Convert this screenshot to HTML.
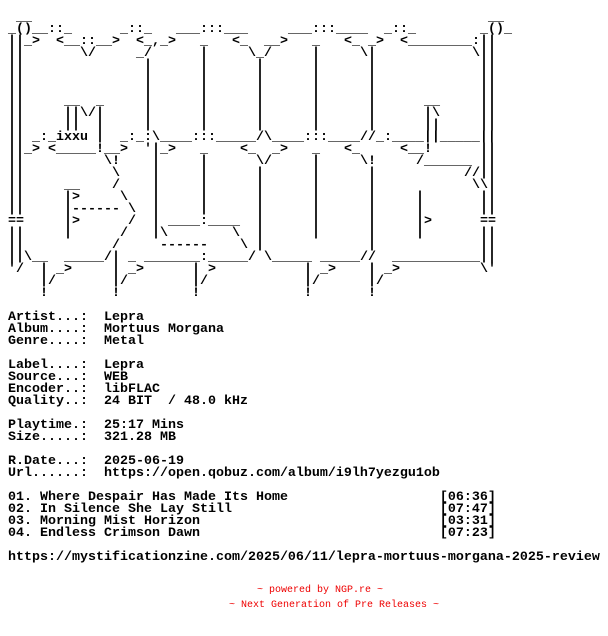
<!DOCTYPE html>
<html><head><meta charset="utf-8"><style>
html,body{margin:0;padding:0;background:#fff;width:608px;height:636px;overflow:hidden;position:relative}
.t,.a i{font-family:"Liberation Mono",monospace;font-size:13.333px;font-weight:bold;line-height:12px;color:#000;white-space:pre}
.a i{position:absolute;font-style:normal}
.r{position:absolute;left:0;width:608px;height:12px}
.t{position:absolute;left:8px;top:312px;margin:0}
.f{position:absolute;font-family:"Liberation Mono",monospace;font-size:10px;line-height:12px;color:#e00;white-space:pre}
</style></head><body>
<div class="a">
<div class="r" style="top:12px"><i style="left:16px">__</i><i style="left:488px">__</i></div>
<div class="r" style="top:24px"><i style="left:8px">_()__::_</i><i style="left:120px">_::_</i><i style="left:176px">___:::___</i><i style="left:288px">___:::____</i><i style="left:384px">_::_</i><i style="left:480px">_()_</i></div>
<div class="r" style="top:36px"><i style="left:8px">||_&gt;</i><i style="left:56px">&lt;__::__&gt;</i><i style="left:136px">&lt;_,_&gt;</i><i style="left:200px">_</i><i style="left:232px">&lt;_  __&gt;</i><i style="left:312px">_</i><i style="left:344px">&lt;_ _&gt;</i><i style="left:400px">&lt;________:||</i></div>
<div class="r" style="top:48px"><i style="left:8px">||</i><i style="left:80px">\/</i><i style="left:136px">_/</i><i style="left:200px">|</i><i style="left:248px">\_/</i><i style="left:312px">|</i><i style="left:360px">\|</i><i style="left:472px">\||</i></div>
<div class="r" style="top:60px"><i style="left:8px">||</i><i style="left:144px">|</i><i style="left:200px">|</i><i style="left:256px">|</i><i style="left:312px">|</i><i style="left:368px">|</i><i style="left:480px">||</i></div>
<div class="r" style="top:72px"><i style="left:8px">||</i><i style="left:144px">|</i><i style="left:200px">|</i><i style="left:256px">|</i><i style="left:312px">|</i><i style="left:368px">|</i><i style="left:480px">||</i></div>
<div class="r" style="top:84px"><i style="left:8px">||</i><i style="left:144px">|</i><i style="left:200px">|</i><i style="left:256px">|</i><i style="left:312px">|</i><i style="left:368px">|</i><i style="left:480px">||</i></div>
<div class="r" style="top:96px"><i style="left:8px">||</i><i style="left:64px">__</i><i style="left:96px">_</i><i style="left:144px">|</i><i style="left:200px">|</i><i style="left:256px">|</i><i style="left:312px">|</i><i style="left:368px">|</i><i style="left:424px">__</i><i style="left:480px">||</i></div>
<div class="r" style="top:108px"><i style="left:8px">||</i><i style="left:64px">||\/|</i><i style="left:144px">|</i><i style="left:200px">|</i><i style="left:256px">|</i><i style="left:312px">|</i><i style="left:368px">|</i><i style="left:424px">|\</i><i style="left:480px">||</i></div>
<div class="r" style="top:120px"><i style="left:8px">||</i><i style="left:64px">||</i><i style="left:96px">|</i><i style="left:144px">|</i><i style="left:200px">|</i><i style="left:256px">|</i><i style="left:312px">|</i><i style="left:368px">|</i><i style="left:424px">||</i><i style="left:480px">||</i></div>
<div class="r" style="top:132px"><i style="left:8px">||</i><i style="left:32px">_:_ixxu</i><i style="left:96px">|</i><i style="left:120px">_:_:\____:::_____/\____:::____//_:____||_____||</i></div>
<div class="r" style="top:144px"><i style="left:8px">||_&gt;</i><i style="left:48px">&lt;_____!__&gt;</i><i style="left:144px">'|_&gt;</i><i style="left:200px">_</i><i style="left:240px">&lt;_  _&gt;</i><i style="left:312px">_</i><i style="left:344px">&lt;_</i><i style="left:400px">&lt;__!</i><i style="left:480px">||</i></div>
<div class="r" style="top:156px"><i style="left:8px">||</i><i style="left:104px">\!</i><i style="left:152px">|</i><i style="left:200px">|</i><i style="left:256px">\/</i><i style="left:312px">|</i><i style="left:360px">\!</i><i style="left:416px">/______</i><i style="left:480px">||</i></div>
<div class="r" style="top:168px"><i style="left:8px">||</i><i style="left:112px">\</i><i style="left:152px">|</i><i style="left:200px">|</i><i style="left:256px">|</i><i style="left:312px">|</i><i style="left:368px">|</i><i style="left:464px">//</i><i style="left:480px">||</i></div>
<div class="r" style="top:180px"><i style="left:8px">||</i><i style="left:64px">__</i><i style="left:112px">/</i><i style="left:152px">|</i><i style="left:200px">|</i><i style="left:256px">|</i><i style="left:312px">|</i><i style="left:368px">|</i><i style="left:472px">\\|</i></div>
<div class="r" style="top:192px"><i style="left:8px">||</i><i style="left:64px">|&gt;</i><i style="left:120px">\</i><i style="left:152px">|</i><i style="left:200px">|</i><i style="left:256px">|</i><i style="left:312px">|</i><i style="left:368px">|</i><i style="left:416px">|</i><i style="left:480px">||</i></div>
<div class="r" style="top:204px"><i style="left:8px">||</i><i style="left:64px">|------</i><i style="left:128px">\</i><i style="left:152px">|</i><i style="left:200px">|</i><i style="left:256px">|</i><i style="left:312px">|</i><i style="left:368px">|</i><i style="left:416px">|</i><i style="left:480px">||</i></div>
<div class="r" style="top:216px"><i style="left:8px">==</i><i style="left:64px">|&gt;</i><i style="left:128px">/</i><i style="left:152px">|</i><i style="left:168px">____:____</i><i style="left:256px">|</i><i style="left:312px">|</i><i style="left:368px">|</i><i style="left:416px">|&gt;</i><i style="left:480px">==</i></div>
<div class="r" style="top:228px"><i style="left:8px">||</i><i style="left:64px">|</i><i style="left:120px">/</i><i style="left:152px">|\</i><i style="left:232px">\</i><i style="left:256px">|</i><i style="left:312px">|</i><i style="left:368px">|</i><i style="left:416px">|</i><i style="left:480px">||</i></div>
<div class="r" style="top:240px"><i style="left:8px">||</i><i style="left:112px">/</i><i style="left:160px">------</i><i style="left:240px">\</i><i style="left:256px">|</i><i style="left:368px">|</i><i style="left:480px">||</i></div>
<div class="r" style="top:252px"><i style="left:8px">||\__</i><i style="left:64px">_____/|</i><i style="left:128px">_</i><i style="left:144px">_______:_____/</i><i style="left:264px">\_____</i><i style="left:320px">_____//</i><i style="left:392px">___________||</i></div>
<div class="r" style="top:264px"><i style="left:8px">'/</i><i style="left:40px">|</i><i style="left:56px">_&gt;</i><i style="left:112px">|</i><i style="left:128px">_&gt;</i><i style="left:192px">|</i><i style="left:208px">&gt;</i><i style="left:304px">|</i><i style="left:320px">_&gt;</i><i style="left:368px">|</i><i style="left:384px">_&gt;</i><i style="left:480px">\'</i></div>
<div class="r" style="top:276px"><i style="left:40px">|/</i><i style="left:112px">|/</i><i style="left:192px">|/</i><i style="left:304px">|/</i><i style="left:368px">|/</i></div>
<div class="r" style="top:288px"><i style="left:40px">!</i><i style="left:112px">!</i><i style="left:192px">!</i><i style="left:304px">!</i><i style="left:368px">!</i></div>
</div>
<pre class="t">Artist...:  Lepra
Album....:  Mortuus Morgana
Genre....:  Metal

Label....:  Lepra
Source...:  WEB
Encoder..:  libFLAC
Quality..:  24 BIT  / 48.0 kHz

Playtime.:  25:17 Mins
Size.....:  321.28 MB

R.Date...:  2025-06-19
Url......:  https://open.qobuz.com/album/i9lh7yezgu1ob

01. Where Despair Has Made Its Home                   [06:36]
02. In Silence She Lay Still                          [07:47]
03. Morning Mist Horizon                              [03:31]
04. Endless Crimson Dawn                              [07:23]

https://mystificationzine.com/2025/06/11/lepra-mortuus-morgana-2025-review</pre>
<div class="f" style="left:257px;top:585px">~ powered by NGP.re ~</div>
<div class="f" style="left:229px;top:600px">~ Next Generation of Pre Releases ~</div>
</body></html>
